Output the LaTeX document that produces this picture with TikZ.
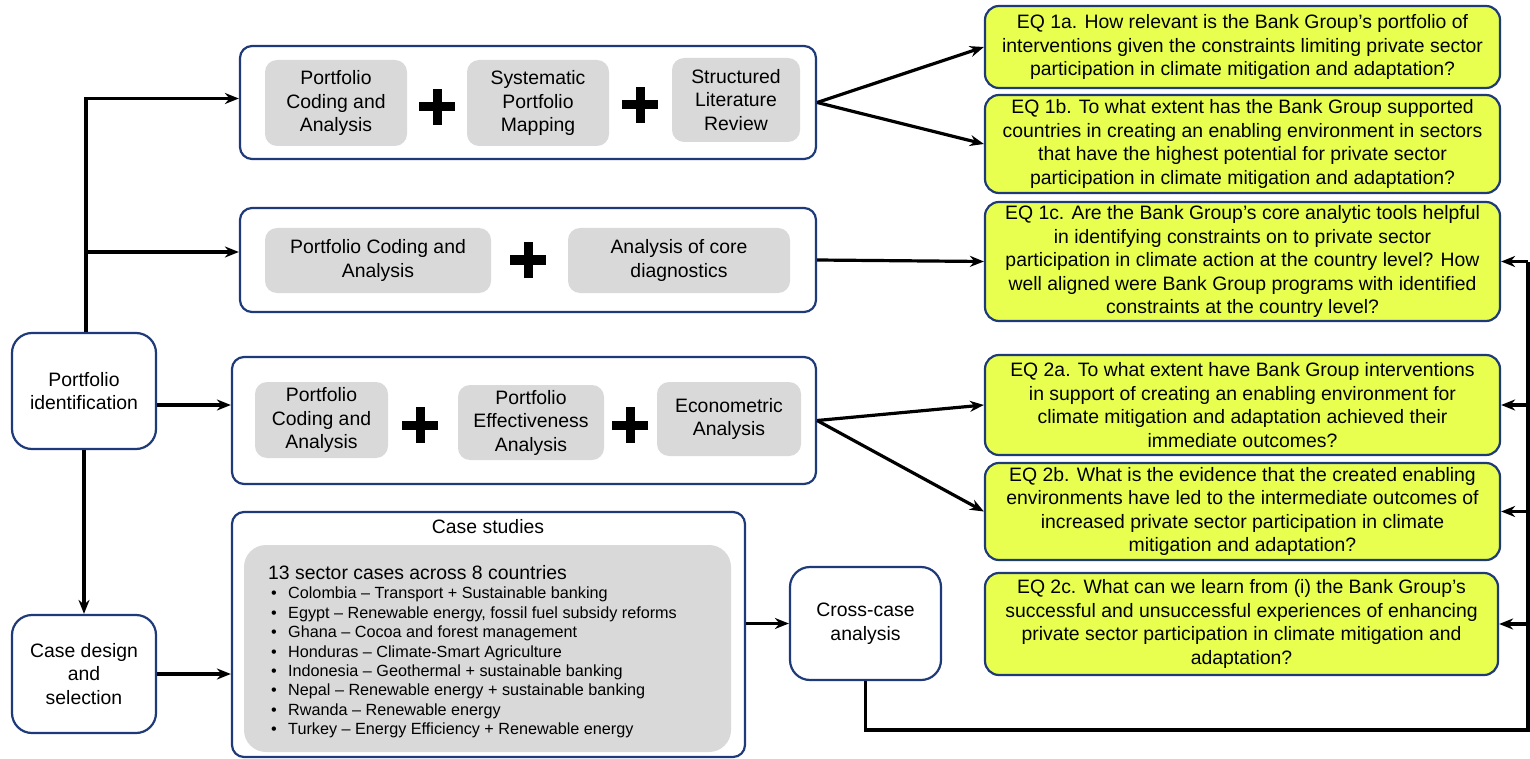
\documentclass[tikz,border=0pt]{standalone}
\usepackage{fontspec}
\setmainfont{Liberation Sans}
\usetikzlibrary{arrows.meta}
\definecolor{navy}{HTML}{1F3A78}
\definecolor{boxgray}{HTML}{D9D9D9}
\definecolor{eqyellow}{HTML}{E8FF50}
\newcommand\mainfs{\fontsize{19.4}{23.5}\selectfont}
\newcommand\listfs{\fontsize{16.2}{19.45}\selectfont}
\newcommand\headfs{\fontsize{19.4}{22}\selectfont}
\newcommand\bul{\hspace*{3pt}\makebox[17pt][l]{•}}
\begin{document}
\begin{tikzpicture}[x=1pt,y=-1pt,
  frame/.style={draw=navy, line width=2.2pt, rounded corners=12pt, fill=white, inner sep=0pt},
  graybox/.style={fill=boxgray, rounded corners=12pt, align=center, font=\mainfs, inner sep=0pt},
  eqbox/.style={draw=navy, line width=2.2pt, fill=eqyellow, rounded corners=14pt, align=center, font=\mainfs, inner sep=0pt},
  sidebox/.style={draw=navy, line width=2.2pt, fill=white, rounded corners=20pt, align=center, font=\mainfs, inner sep=0pt, minimum width=144pt},
  plus/.style={minimum size=38pt, inner sep=0pt, path picture={
      \fill (path picture bounding box.center) ++(-18pt,-4.5pt) rectangle ++(36pt,9pt);
      \fill (path picture bounding box.center) ++(-4.5pt,-18pt) rectangle ++(9pt,36pt);}},
  conn/.style={line width=3.2pt},
  arr/.style={line width=3.2pt, -{Stealth[length=14pt,width=11pt]}}
]
\useasboundingbox (0,0) rectangle (1530,759);

% left boxes
\node[sidebox, minimum height=116pt] (pi) at (84,391) {Portfolio\\identification};
\node[sidebox, minimum height=118pt] (cd) at (84,674) {Case design\\and\\selection};

% box 1
\node[frame, minimum width=576pt, minimum height=113pt] (b1) at (528,102.5) {};
\node[graybox, minimum width=142pt, minimum height=86pt] (g11) at (336,103) {Portfolio\\Coding and\\Analysis};
\node[plus] (p11) at (437,107) {};
\node[graybox, minimum width=142pt, minimum height=86pt] (g12) at (538,103) {Systematic\\Portfolio\\Mapping};
\node[plus] (p12) at (640,105) {};
\node[graybox, minimum width=128pt, minimum height=84pt] (g13) at (736,100) {Structured\\Literature\\Review};

% box 2
\node[frame, minimum width=576pt, minimum height=104pt] (b2) at (528,260) {};
\node[graybox, minimum width=226pt, minimum height=65pt] (g21) at (378,260.5) {Portfolio Coding and\\Analysis};
\node[plus] (p21) at (528,260) {};
\node[graybox, minimum width=222pt, minimum height=65pt] (g22) at (679,260.5) {Analysis of core\\diagnostics};

% box 3
\node[frame, minimum width=584pt, minimum height=127pt] (b3) at (524,420.5) {};
\node[graybox, minimum width=133pt, minimum height=76pt] (g31) at (321.5,420) {Portfolio\\Coding and\\Analysis};
\node[plus] (p31) at (420,425) {};
\node[graybox, minimum width=146pt, minimum height=75pt] (g32) at (531,422.5) {Portfolio\\Effectiveness\\Analysis};
\node[plus] (p32) at (630,425) {};
\node[graybox, minimum width=144pt, minimum height=74pt] (g33) at (729,419) {Econometric\\Analysis};

% case studies
\node[frame, minimum width=513pt, minimum height=245pt] (cs) at (488.5,634.5) {};
\node[font=\mainfs, inner sep=0pt] (cst) at (488,527) {Case studies};
\node[graybox, rounded corners=22pt, minimum width=487pt, minimum height=207pt] (csg) at (487.5,648.5) {};
\node[anchor=north west, align=left, inner sep=0pt, font=\listfs] (csl) at (268,565) {%
{\headfs 13 sector cases across 8 countries}\\[0pt]
\bul Colombia – Transport + Sustainable banking\\
\bul Egypt – Renewable energy, fossil fuel subsidy reforms\\
\bul Ghana – Cocoa and forest management\\
\bul Honduras – Climate-Smart Agriculture\\
\bul Indonesia – Geothermal + sustainable banking\\
\bul Nepal – Renewable energy + sustainable banking\\
\bul Rwanda – Renewable energy\\
\bul Turkey – Energy Efficiency + Renewable energy};

% cross-case
\node[sidebox, minimum width=151pt, minimum height=113pt] (cc) at (865.5,623.5) {Cross-case\\analysis};

% EQ boxes
\node[eqbox, minimum width=515pt, minimum height=82pt] (eq1a) at (1242.5,47) {EQ 1a. How relevant is the Bank Group’s portfolio of\\interventions given the constraints limiting private sector\\participation in climate mitigation and adaptation?};
\node[eqbox, minimum width=515pt, minimum height=98pt] (eq1b) at (1242.5,144) {EQ 1b. To what extent has the Bank Group supported\\countries in creating an enabling environment in sectors\\that have the highest potential for private sector\\participation in climate mitigation and adaptation?};
\node[eqbox, minimum width=515pt, minimum height=119pt] (eq1c) at (1242.5,261.5) {EQ 1c. Are the Bank Group’s core analytic tools helpful\\in identifying constraints on to private sector\\participation in climate action at the country level? How\\well aligned were Bank Group programs with identified\\constraints at the country level?};
\node[eqbox, minimum width=515pt, minimum height=100pt] (eq2a) at (1242.5,405) {EQ 2a. To what extent have Bank Group interventions\\in support of creating an enabling environment for\\climate mitigation and adaptation achieved their\\immediate outcomes?};
\node[eqbox, minimum width=515pt, minimum height=97pt] (eq2b) at (1242.5,511.5) {EQ 2b. What is the evidence that the created enabling\\environments have led to the intermediate outcomes of\\increased private sector participation in climate\\mitigation and adaptation?};
\node[eqbox, minimum width=513pt, minimum height=102pt] (eq2c) at (1241.5,624) {EQ 2c. What can we learn from (i) the Bank Group’s\\successful and unsuccessful experiences of enhancing\\private sector participation in climate mitigation and\\adaptation?};

% connectors from left
\draw[arr] ([xshift=2pt]pi.north) |- ([yshift=4pt]b1.west);
\draw[arr] ([xshift=2pt]pi.north) |- ([yshift=8pt]b2.west);
\draw[arr] ([yshift=-14pt]pi.east) -- ([yshift=-14pt]pi.east -| b3.west);
\draw[arr] (pi.south) -- (cd.north);
\draw[arr] (cd.east) -- (cd.east -| cs.west);
\draw[arr] (cs.east |- cc.west) -- (cc.west);

% to EQs
\draw[arr] (b1.east) -- (eq1a.west);
\draw[arr] (b1.east) -- (eq1b.west);
\draw[arr] (b2.east) -- (eq1c.west);
\draw[arr] (b3.east) -- (eq2a.west);
\draw[arr] (b3.east) -- (eq2b.west);

% feedback
\coordinate (fbc) at (1528,730);
\coordinate (fbt) at (1528,261.5);
\draw[conn] (cc.south) |- (fbc) -- (fbt);
\draw[arr] (eq1c.east -| fbc) -- (eq1c.east);
\draw[arr] (eq2a.east -| fbc) -- (eq2a.east);
\draw[arr] (eq2b.east -| fbc) -- (eq2b.east);
\draw[arr] (eq2c.east -| fbc) -- (eq2c.east);
\end{tikzpicture}
\end{document}
